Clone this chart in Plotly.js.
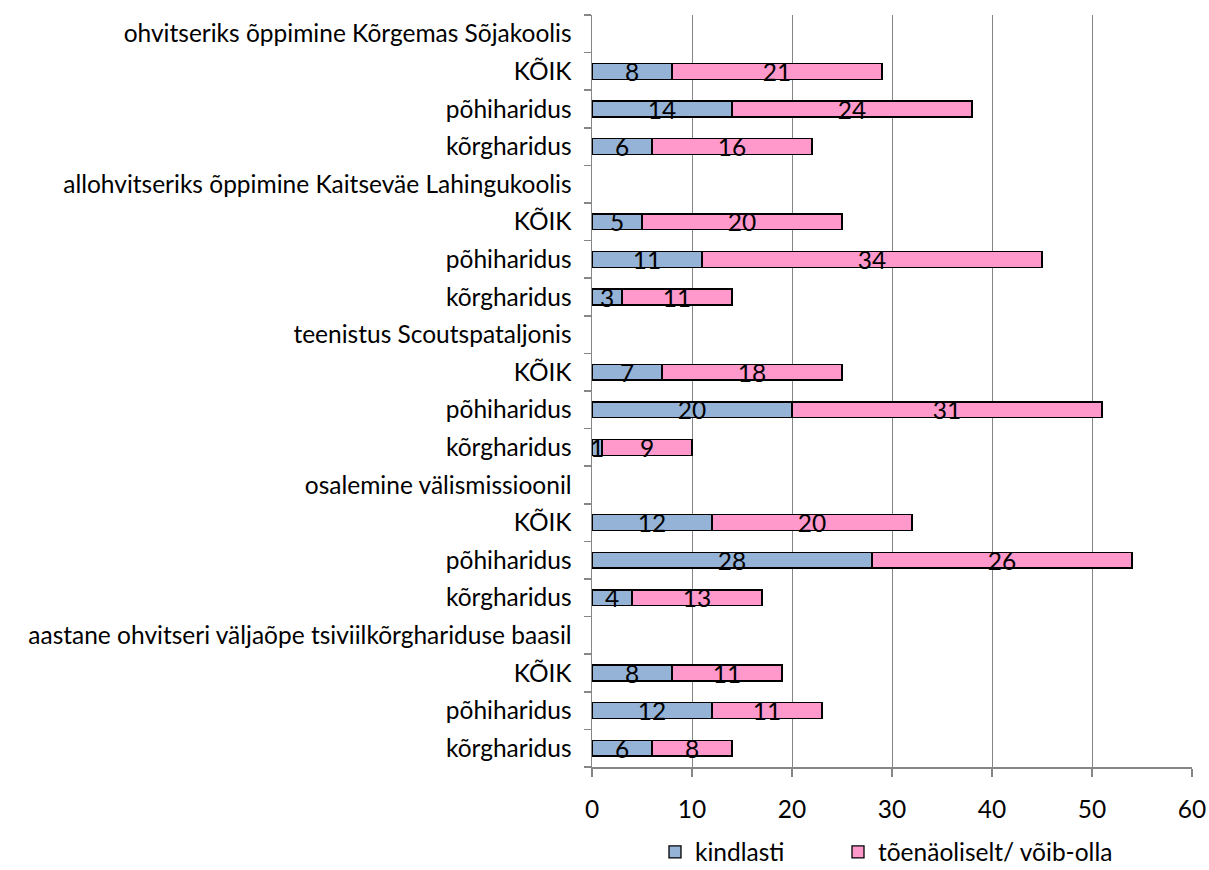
<!DOCTYPE html>
<html>
<head>
<meta charset="utf-8">
<script src="https://cdn.plot.ly/plotly-3.0.1.min.js"></script>
<style>html,body{margin:0;padding:0;background:#fff;}#chart{width:1209px;height:870px;}</style>
</head>
<body>
<div id="chart"></div>
<script>
const categories = [
  "ohvitseriks õppimine Kõrgemas Sõjakoolis",
  "KÕIK",
  "põhiharidus",
  "kõrgharidus",
  "allohvitseriks õppimine Kaitseväe Lahingukoolis",
  "KÕIK",
  "põhiharidus",
  "kõrgharidus",
  "teenistus Scoutspataljonis",
  "KÕIK",
  "põhiharidus",
  "kõrgharidus",
  "osalemine välismissioonil",
  "KÕIK",
  "põhiharidus",
  "kõrgharidus",
  "aastane ohvitseri väljaõpe tsiviilkõrghariduse baasil",
  "KÕIK",
  "põhiharidus",
  "kõrgharidus"
];
const kindlasti = [null, 8, 14, 6, null, 5, 11, 3, null, 7, 20, 1, null, 12, 28, 4, null, 8, 12, 6];
const toenaoliselt = [null, 21, 24, 16, null, 20, 34, 11, null, 18, 31, 9, null, 20, 26, 13, null, 11, 11, 8];
const seriesNames = ["kindlasti", "tõenäoliselt/ võib-olla"];
const xTicks = [0, 10, 20, 30, 40, 50, 60];

const n = categories.length;
const ypos = categories.map((c, i) => n - 1 - i);
const boundaries = [];
for (let i = 0; i <= n; i++) boundaries.push(i - 0.5);

const FONT = "Lato, 'Open Sans', sans-serif";
const fs = 24.5;

function bar(vals, name, color, legendId) {
  return {
    type: 'bar', orientation: 'h', name: name, legend: legendId,
    x: vals, y: ypos,
    width: 0.42,
    marker: {color: color, line: {color: '#000', width: 1.3}},
    text: vals.map(v => v == null ? '' : String(v)),
    textposition: 'inside', insidetextanchor: 'middle', textangle: 0,
    constraintext: 'none',
    textfont: {family: FONT, size: fs, color: '#000'},
    hoverinfo: 'x+name'
  };
}

const data = [
  bar(kindlasti, seriesNames[0], '#95B3D7', 'legend'),
  bar(toenaoliselt, seriesNames[1], '#FF99CC', 'legend2')
];

const legendBase = {orientation: 'h', yanchor: 'middle', y: -0.113, xanchor: 'left',
  bgcolor: 'rgba(0,0,0,0)', borderwidth: 0, itemwidth: 30,
  font: {family: FONT, size: fs, color: '#000'}};

const layout = {
  width: 1209, height: 870,
  margin: {l: 592, r: 17, t: 15, b: 103, autoexpand: false},
  barmode: 'stack',
  paper_bgcolor: '#fff', plot_bgcolor: '#fff',
  font: {family: FONT, size: fs, color: '#000'},
  uniformtext: {mode: 'show', minsize: fs},
  showlegend: true,
  legend: Object.assign({}, legendBase, {x: 0.105}),
  legend2: Object.assign({}, legendBase, {x: 0.41}),
  xaxis: {
    range: [0, 60], tickvals: xTicks, ticktext: xTicks.map(String),
    showgrid: true, gridcolor: '#868686', gridwidth: 1,
    zeroline: false, showline: true, linecolor: '#868686', linewidth: 1.5,
    ticks: 'outside', ticklen: 8, tickcolor: '#868686', tickwidth: 1.5,
    ticklabelstandoff: 12, fixedrange: true, automargin: false
  },
  yaxis: {
    range: [-0.5, n - 0.5], tickvals: ypos, ticktext: categories,
    showgrid: false, zeroline: false, showline: true, linecolor: '#868686', linewidth: 1.5,
    ticks: '', ticklabelstandoff: 14, automargin: false,
    minor: {tickvals: boundaries, ticks: 'outside', ticklen: 7, tickcolor: '#868686', tickwidth: 1.5, showgrid: false},
    fixedrange: true
  }
};

Plotly.newPlot('chart', data, layout, {displayModeBar: false, staticPlot: true});
</script>
</body>
</html>
